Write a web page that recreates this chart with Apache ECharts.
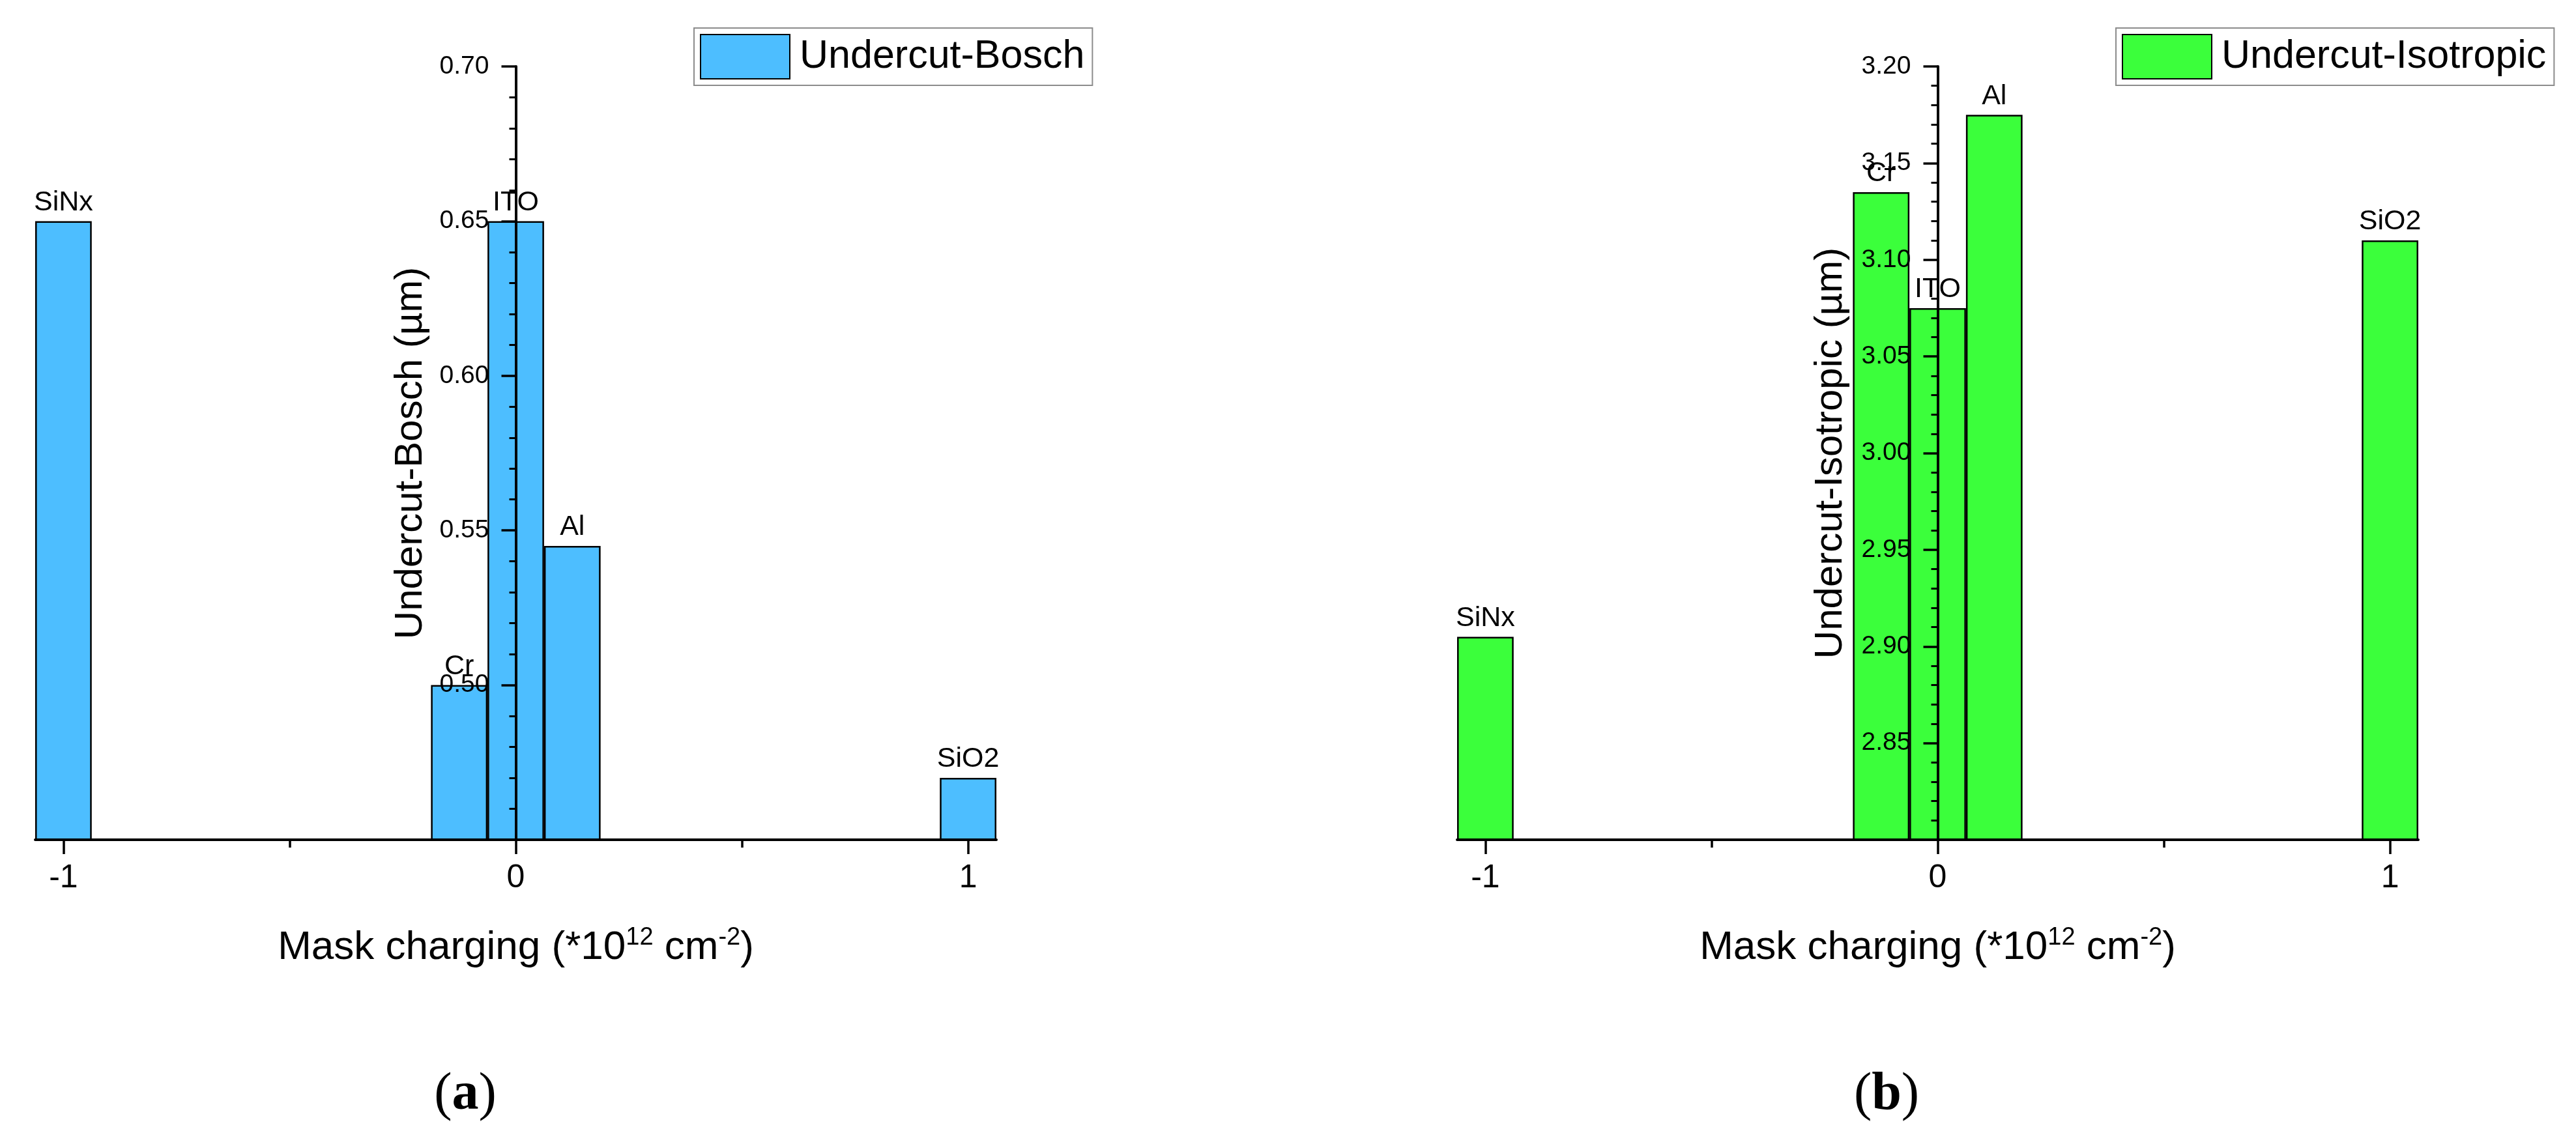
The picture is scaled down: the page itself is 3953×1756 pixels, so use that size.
<!DOCTYPE html>
<html>
<head>
<meta charset="utf-8">
<title>Undercut vs mask charging</title>
<script src="https://cdn.jsdelivr.net/npm/echarts@6.0.0/dist/echarts.min.js"></script>
<style>
  html, body { margin: 0; padding: 0; background: #fff; }
  #chart { width: 3953px; height: 1756px; }
</style>
</head>
<body>
<div id="chart"></div>
<script>
  // values
  var materials = ['SiNx', 'Cr', 'ITO', 'Al', 'SiO2'];
  var maskCharging = [-1, -0.125, 0, 0.125, 1];
  var undercutBosch = [0.65, 0.50, 0.65, 0.545, 0.47];
  var undercutIsotropic = [2.905, 3.135, 3.075, 3.175, 3.11];
  var xTickValues = [-1, 0, 1];
  var xMinorTickValues = [-0.5, 0.5];

  var X_MIN = -1.0625, X_MAX = 1.0625;
  var GRID_LEFT = [54, 2236], GRID_W = 1475;
  var FONT = '"Liberation Sans", Arial, sans-serif';
  var SERIF = '"Liberation Serif", "Times New Roman", serif';

  function points(ys) {
    return ys.map(function (y, i) {
      return { name: materials[i], value: [maskCharging[i], y] };
    });
  }

  // main x axis (labels + major ticks) and a bare one carrying the half-step ticks
  function xAxisPair(gridIndex) {
    return [{
      type: 'value', gridIndex: gridIndex, min: X_MIN, max: X_MAX, z: 10,
      axisLine: { onZero: false, lineStyle: { color: '#000', width: 4 } },
      axisTick: { show: true, customValues: xTickValues, length: 22, lineStyle: { color: '#000', width: 3.5 } },
      axisLabel: { customValues: xTickValues, margin: 34, fontSize: 50, color: '#000', fontFamily: FONT },
      splitLine: { show: false },
      name: '{t|Mask charging (*10}{s|12}{t| cm}{s|-2}{t|)}',
      nameLocation: 'middle', nameGap: 132,
      nameTextStyle: {
        rich: {
          t: { fontSize: 62, fontFamily: FONT, color: '#000', lineHeight: 68 },
          s: { fontSize: 38, fontFamily: FONT, color: '#000', lineHeight: 42, verticalAlign: 'top' }
        }
      }
    }, {
      type: 'value', gridIndex: gridIndex, min: X_MIN, max: X_MAX, z: 10, position: 'bottom',
      axisLine: { show: false, onZero: false },
      axisTick: { show: true, customValues: xMinorTickValues, length: 12, lineStyle: { color: '#000', width: 3.5 } },
      axisLabel: { show: false },
      splitLine: { show: false }
    }];
  }

  // y axis drawn at x = 0 : shift it right from the grid edge by offset
  function yAxis(gridIndex, min, max, name, gap) {
    var zeroShift = GRID_W * (0 - X_MIN) / (X_MAX - X_MIN);
    return {
      type: 'value', gridIndex: gridIndex, min: min, max: max, interval: 0.05, z: 10,
      position: 'left', offset: -zeroShift,
      axisLine: { show: true, onZero: false, lineStyle: { color: '#000', width: 4 } },
      axisTick: { show: true, length: 22, lineStyle: { color: '#000', width: 3.5 } },
      minorTick: { show: true, splitNumber: 5, length: 10, lineStyle: { color: '#000', width: 3 } },
      splitLine: { show: false },
      axisLabel: {
        showMinLabel: false, margin: 41, fontSize: 39, color: '#000', fontFamily: FONT,
        formatter: function (v) { return v.toFixed(2); }
      },
      name: name, nameLocation: 'middle', nameGap: gap,
      nameTextStyle: { fontSize: 60, fontFamily: FONT, color: '#000' }
    };
  }

  function barSeries(name, ys, color, idx) {
    return {
      type: 'bar', name: name, xAxisIndex: idx * 2, yAxisIndex: idx,
      data: points(ys), barWidth: '100%',
      itemStyle: { color: color, borderColor: '#000', borderWidth: 2.5 },
      label: { show: true, position: 'top', distance: 7, formatter: '{b}', fontSize: 43, fontFamily: FONT, color: '#000' }
    };
  }

  function legend(name, left) {
    return {
      data: [name], left: left, top: 43, icon: 'rect', selectedMode: false,
      itemWidth: 137, itemHeight: 68, padding: [9, 12, 9, 9],
      borderColor: '#8c8c8c', borderWidth: 2,
      textStyle: { fontSize: 61, fontFamily: FONT, color: '#000', padding: [0, 0, 0, 10] }
    };
  }

  function panelTag(letter, x) {
    return {
      type: 'text', x: x, y: 1681,
      style: {
        text: '{p|(}{b|' + letter + '}{p|)}', align: 'center', verticalAlign: 'middle',
        rich: {
          p: { fontSize: 82, fontFamily: SERIF, color: '#000' },
          b: { fontSize: 82, fontFamily: SERIF, fontWeight: 'bold', color: '#000' }
        }
      }
    };
  }

  var chart = echarts.init(document.getElementById('chart'));
  chart.setOption({
    backgroundColor: '#fff',
    animation: false,
    grid: [
      { left: GRID_LEFT[0], top: 102, width: GRID_W, bottom: 467, outerBoundsMode: 'none' },
      { left: GRID_LEFT[1], top: 102, width: GRID_W, bottom: 467, outerBoundsMode: 'none' }
    ],
    legend: [legend('Undercut-Bosch', 1065), legend('Undercut-Isotropic', 3247)],
    xAxis: xAxisPair(0).concat(xAxisPair(1)),
    yAxis: [
      yAxis(0, 0.45, 0.70, 'Undercut-Bosch (µm)', 131),
      yAxis(1, 2.80, 3.20, 'Undercut-Isotropic (µm)', 134)
    ],
    series: [
      barSeries('Undercut-Bosch', undercutBosch, '#4DBEFF', 0),
      barSeries('Undercut-Isotropic', undercutIsotropic, '#3BFF3B', 1)
    ],
    graphic: [panelTag('a', 714), panelTag('b', 2895)]
  });
</script>
</body>
</html>
